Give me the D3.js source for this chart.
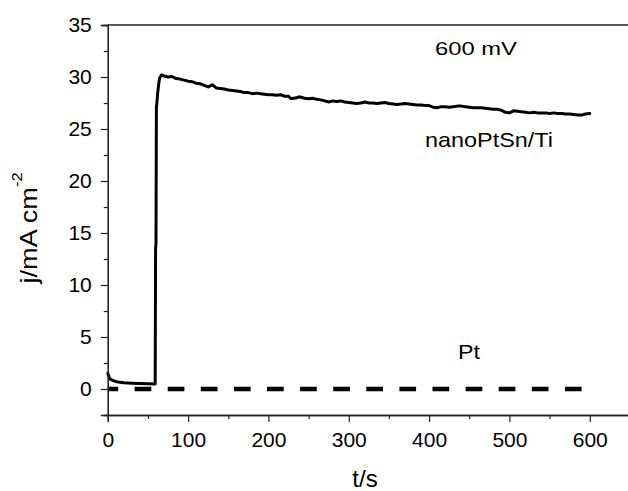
<!DOCTYPE html>
<html>
<head>
<meta charset="utf-8">
<script src="https://cdn.jsdelivr.net/npm/d3@7"></script>
<style>
  body { margin: 0; background: #fff; }
</style>
</head>
<body>
<div id="chart"></div>
<script>
// nanoPtSn/Ti current transient (t in s, j in mA cm-2)
const tNano = [0, 1, 2, 4, 7, 10, 15, 20, 30, 40, 50, 58, 59,
  59.5, 60, 60.5, 61, 62, 63.5, 64.5, 67,
  70, 75, 80, 85, 90, 95, 100, 105, 110, 115, 120, 125, 130, 135, 140, 145, 150, 155, 160, 165,
  170, 175, 180, 185, 190, 195, 200, 205, 210, 215, 220, 225, 228, 235, 238, 245, 250, 255, 260, 265,
  270, 275, 280, 285, 290, 295, 300, 305, 310, 315, 320, 325, 330, 335, 340, 345, 350, 355, 360, 365,
  370, 375, 380, 385, 390, 395, 400, 405, 410, 415, 420, 425, 430, 435, 440, 445, 450, 455, 460, 465,
  470, 475, 480, 485, 490, 495, 500, 505, 510, 515, 520, 525, 530, 535, 540, 545, 550, 555, 560, 565,
  570, 575, 580, 585, 590, 595, 600];
const jNano = [1.5, 1.3, 1.05, 0.9, 0.8, 0.72, 0.64, 0.6, 0.56, 0.53, 0.5, 0.48, 0.48,
  13.5, 14.0, 27.1, 27.4, 28.4, 29.4, 29.9, 30.2,
  30.1, 30.0, 30.05, 29.85, 29.8, 29.7, 29.6, 29.55, 29.4, 29.35, 29.2, 29.05, 29.25, 28.95, 28.9, 28.85, 28.75, 28.7, 28.65, 28.6,
  28.5, 28.5, 28.4, 28.45, 28.4, 28.35, 28.3, 28.3, 28.25, 28.3, 28.15, 28.15, 27.9, 28.0, 28.1, 27.95, 27.9, 27.95, 27.85, 27.8,
  27.7, 27.6, 27.7, 27.65, 27.7, 27.6, 27.55, 27.5, 27.45, 27.5, 27.6, 27.5, 27.5, 27.45, 27.5, 27.55, 27.45, 27.4, 27.35, 27.4,
  27.45, 27.4, 27.35, 27.3, 27.3, 27.25, 27.25, 27.1, 27.05, 27.15, 27.15, 27.1, 27.15, 27.2, 27.2, 27.15, 27.1, 27.05, 27.05, 27.05,
  27.0, 26.95, 26.9, 26.9, 26.8, 26.6, 26.55, 26.75, 26.7, 26.65, 26.6, 26.55, 26.6, 26.55, 26.55, 26.55, 26.5, 26.55, 26.5, 26.5,
  26.45, 26.45, 26.4, 26.35, 26.35, 26.45, 26.5];

// Pt current transient
const tPt = [0, 600];
const jPt = [0, 0];

const xMajorTicks = [0, 100, 200, 300, 400, 500, 600];
const xMinorTicks = [50, 150, 250, 350, 450, 550, 650];
const yMajorTicks = [0, 5, 10, 15, 20, 25, 30, 35];
const yMinorTicks = [-2.5, 2.5, 7.5, 12.5, 17.5, 22.5, 27.5, 32.5];

const width = 628;
const height = 491;
const font = "'Liberation Sans', Arial, sans-serif";

const svg = d3.select("#chart")
  .append("svg")
  .attr("width", width)
  .attr("height", height)
  .style("background", "#fff");

const xScale = d3.scaleLinear().domain([0, 650]).range([107.8, 629.9]);
const yScale = d3.scaleLinear().domain([-2.5, 35]).range([415, 25]);

const nanoData = tNano.map((t, i) => ({ t, j: jNano[i] }));
const ptData = tPt.map((t, i) => ({ t, j: jPt[i] }));

const line = d3.line()
  .x((d) => xScale(d.t))
  .y((d) => yScale(d.j));

// Pt dashed line
svg.append("path")
  .datum(ptData)
  .attr("d", line)
  .attr("fill", "none")
  .attr("stroke", "#000")
  .attr("stroke-width", 4.5)
  .attr("stroke-dasharray", "16.7,16.4")
  .attr("stroke-dashoffset", 6.3);

// nanoPtSn/Ti solid line
svg.append("path")
  .datum(nanoData)
  .attr("d", line)
  .attr("fill", "none")
  .attr("stroke", "#000")
  .attr("stroke-width", 3)
  .attr("stroke-linejoin", "round")
  .attr("stroke-linecap", "round");

// axes: minor ticks, then major ticks with labels
function styleAxis(g) {
  g.select(".domain").attr("stroke", "#222").attr("stroke-width", 1.3);
  g.selectAll(".tick line").attr("stroke", "#222").attr("stroke-width", 1.2);
  g.selectAll("text")
    .attr("fill", "#000")
    .style("font-family", font)
    .style("font-size", "21px");
}

svg.append("g")
  .attr("transform", `translate(0,${yScale(-2.5)})`)
  .call(d3.axisBottom(xScale).tickValues(xMinorTicks).tickSize(4).tickFormat(""))
  .call(styleAxis);

svg.append("g")
  .attr("transform", `translate(0,${yScale(-2.5)})`)
  .call(d3.axisBottom(xScale).tickValues(xMajorTicks).tickSize(7).tickPadding(10).tickFormat(d3.format("d")))
  .call(styleAxis);

svg.append("g")
  .attr("transform", `translate(${xScale(0)},0)`)
  .call(d3.axisLeft(yScale).tickValues(yMinorTicks).tickSize(4).tickFormat(""))
  .call(styleAxis);

svg.append("g")
  .attr("transform", `translate(${xScale(0)},0)`)
  .call(d3.axisLeft(yScale).tickValues(yMajorTicks).tickSize(7).tickPadding(9).tickFormat(d3.format("d")))
  .call(styleAxis);

// top frame line
svg.append("line")
  .attr("x1", xScale(0))
  .attr("x2", xScale(650))
  .attr("y1", yScale(35))
  .attr("y2", yScale(35))
  .attr("stroke", "#222")
  .attr("stroke-width", 1.3);

// axis titles
svg.append("text")
  .attr("x", 365)
  .attr("y", 487)
  .attr("text-anchor", "middle")
  .attr("fill", "#000")
  .style("font-family", font)
  .style("font-size", "24px")
  .text("t/s");

const yTitle = svg.append("text")
  .attr("transform", "translate(36.5,283.5) rotate(-90) scale(1.18,1)")
  .attr("text-anchor", "start")
  .attr("fill", "#000")
  .style("font-family", font)
  .style("font-size", "23px");
yTitle.append("tspan").text("j/mA cm");
yTitle.append("tspan").attr("dy", -15).style("font-size", "14px").text("-2");

// annotations
const notes = [
  { text: "600 mV", x: 476, y: 55, size: 19, len: 82 },
  { text: "nanoPtSn/Ti", x: 489, y: 147, size: 21, len: 128 },
  { text: "Pt", x: 469, y: 359, size: 20, len: 22 },
];
svg.selectAll(".note")
  .data(notes)
  .enter()
  .append("text")
  .attr("class", "note")
  .attr("x", (d) => d.x)
  .attr("y", (d) => d.y)
  .attr("text-anchor", "middle")
  .attr("textLength", (d) => d.len)
  .attr("lengthAdjust", "spacingAndGlyphs")
  .attr("fill", "#000")
  .style("font-family", font)
  .style("font-size", (d) => d.size + "px")
  .text((d) => d.text);
</script>
</body>
</html>
